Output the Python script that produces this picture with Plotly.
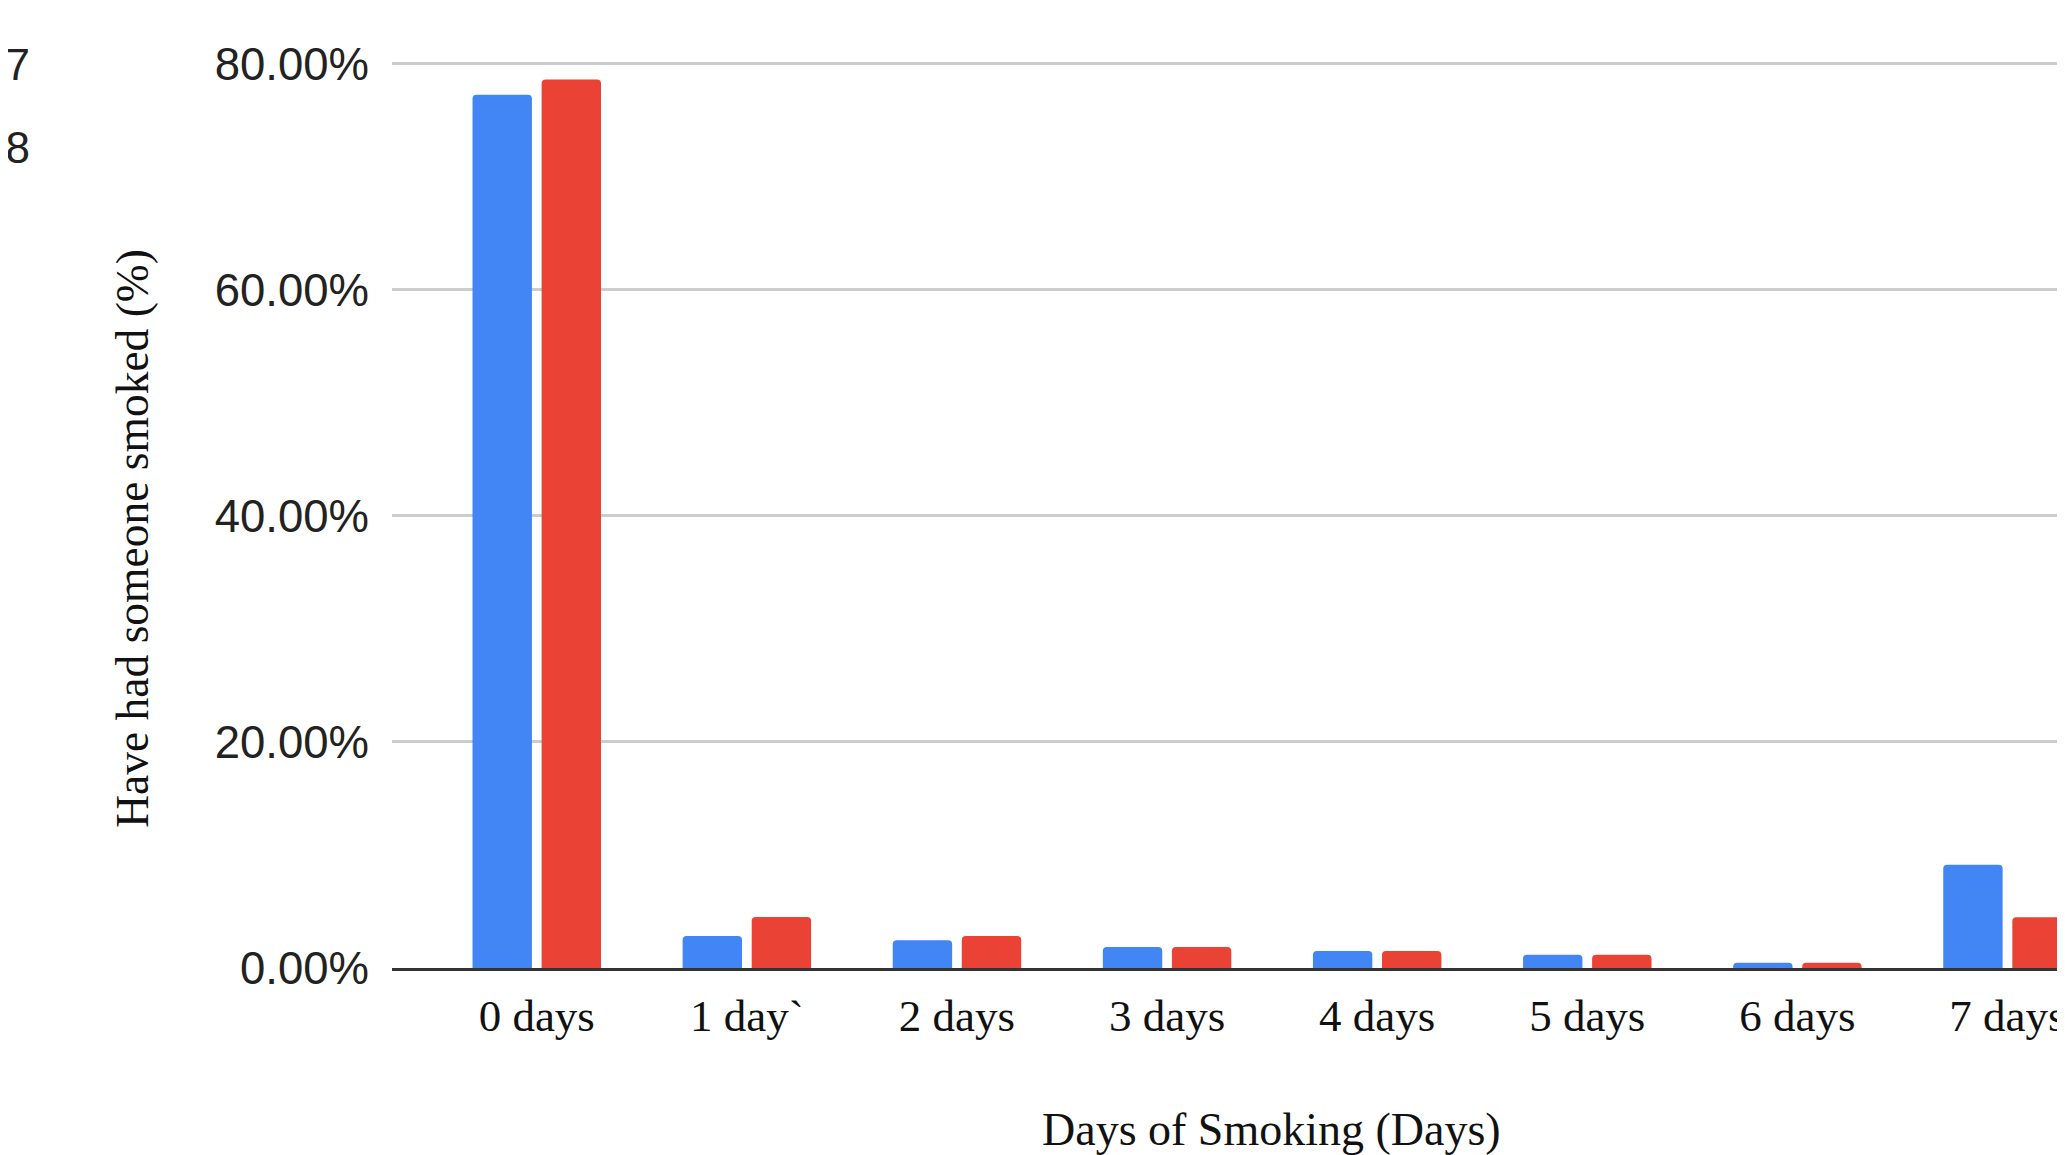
import plotly.graph_objects as go

# ---- data ----
categories = ["0 days", "1 day`", "2 days", "3 days", "4 days", "5 days", "6 days", "7 days"]
series_names = ["2007", "2008"]
series_a = [77.25, 2.83, 2.45, 1.86, 1.50, 1.18, 0.47, 9.14]
series_b = [78.60, 4.51, 2.83, 1.86, 1.50, 1.18, 0.47, 4.48]
y_ticks = [0, 20, 40, 60, 80]
y_tick_labels = [f"{v:.2f}%" for v in y_ticks]
colors = ["#4285F4", "#EA4335"]

OFF = 8  # default page body margin
W, H = 2065 - OFF, 1155 - OFF
ML, MR, MT = 392 - OFF, 0, 41 - OFF
PW = W - ML - MR
PH = 927
MB = H - MT - PH
base_px = MT + PH  # figure pixel of the baseline


def px_x(p):
    """page pixel -> paper x"""
    return (p - OFF - ML) / PW


def px_y(p):
    """page pixel -> paper y"""
    return (base_px - (p - OFF)) / PH


fig = go.Figure()
for name, vals, col in zip(series_names, [series_a, series_b], colors):
    fig.add_trace(go.Bar(x=categories, y=vals, name=name, marker_color=col,
                         marker_line_width=0, showlegend=False))

serif = "Liberation Serif, Times New Roman, serif"
sans = "Liberation Sans, Arial, sans-serif"

annotations = []
for name, ypx in zip(series_names, [64, 147]):
    annotations.append(dict(text=name, xref="paper", yref="paper", x=px_x(31), y=px_y(ypx),
                            xanchor="right", yanchor="middle", showarrow=False,
                            font=dict(family=sans, size=44, color="#222222")))
annotations.append(dict(text="Have had someone smoked (%)", xref="paper", yref="paper",
                        x=px_x(131), y=px_y(538), textangle=-90, xanchor="center",
                        yanchor="middle", showarrow=False,
                        font=dict(family=serif, size=45.5, color="#111111")))
annotations.append(dict(text="Days of Smoking (Days)", xref="paper", yref="paper",
                        x=px_x(1274), y=px_y(1129), xanchor="center", yanchor="middle",
                        showarrow=False, font=dict(family=serif, size=46, color="#111111")))

fig.update_layout(
    width=W, height=H,
    margin=dict(l=ML, r=MR, t=MT, b=MB, pad=0),
    paper_bgcolor="white", plot_bgcolor="white",
    barmode="group", bargap=0.3425, bargroupgap=0.14, barcornerradius=4,
    annotations=annotations,
    xaxis=dict(type="category", categoryorder="array", categoryarray=categories,
               range=[-0.689, 7.25], showgrid=False, zeroline=False,
               showline=True, linecolor="#333333", linewidth=3.2,
               ticks="", ticklabelstandoff=6,
               tickfont=dict(family=serif, size=45, color="#111111")),
    yaxis=dict(range=[0, 82], tickvals=y_ticks, ticktext=y_tick_labels,
               showgrid=True, gridcolor="#cccccc", gridwidth=2.5, zeroline=False,
               showline=False, ticks="", ticklabelstandoff=22,
               tickfont=dict(family=sans, size=45.5, color="#222222")),
)

fig.write_html("out.html")
